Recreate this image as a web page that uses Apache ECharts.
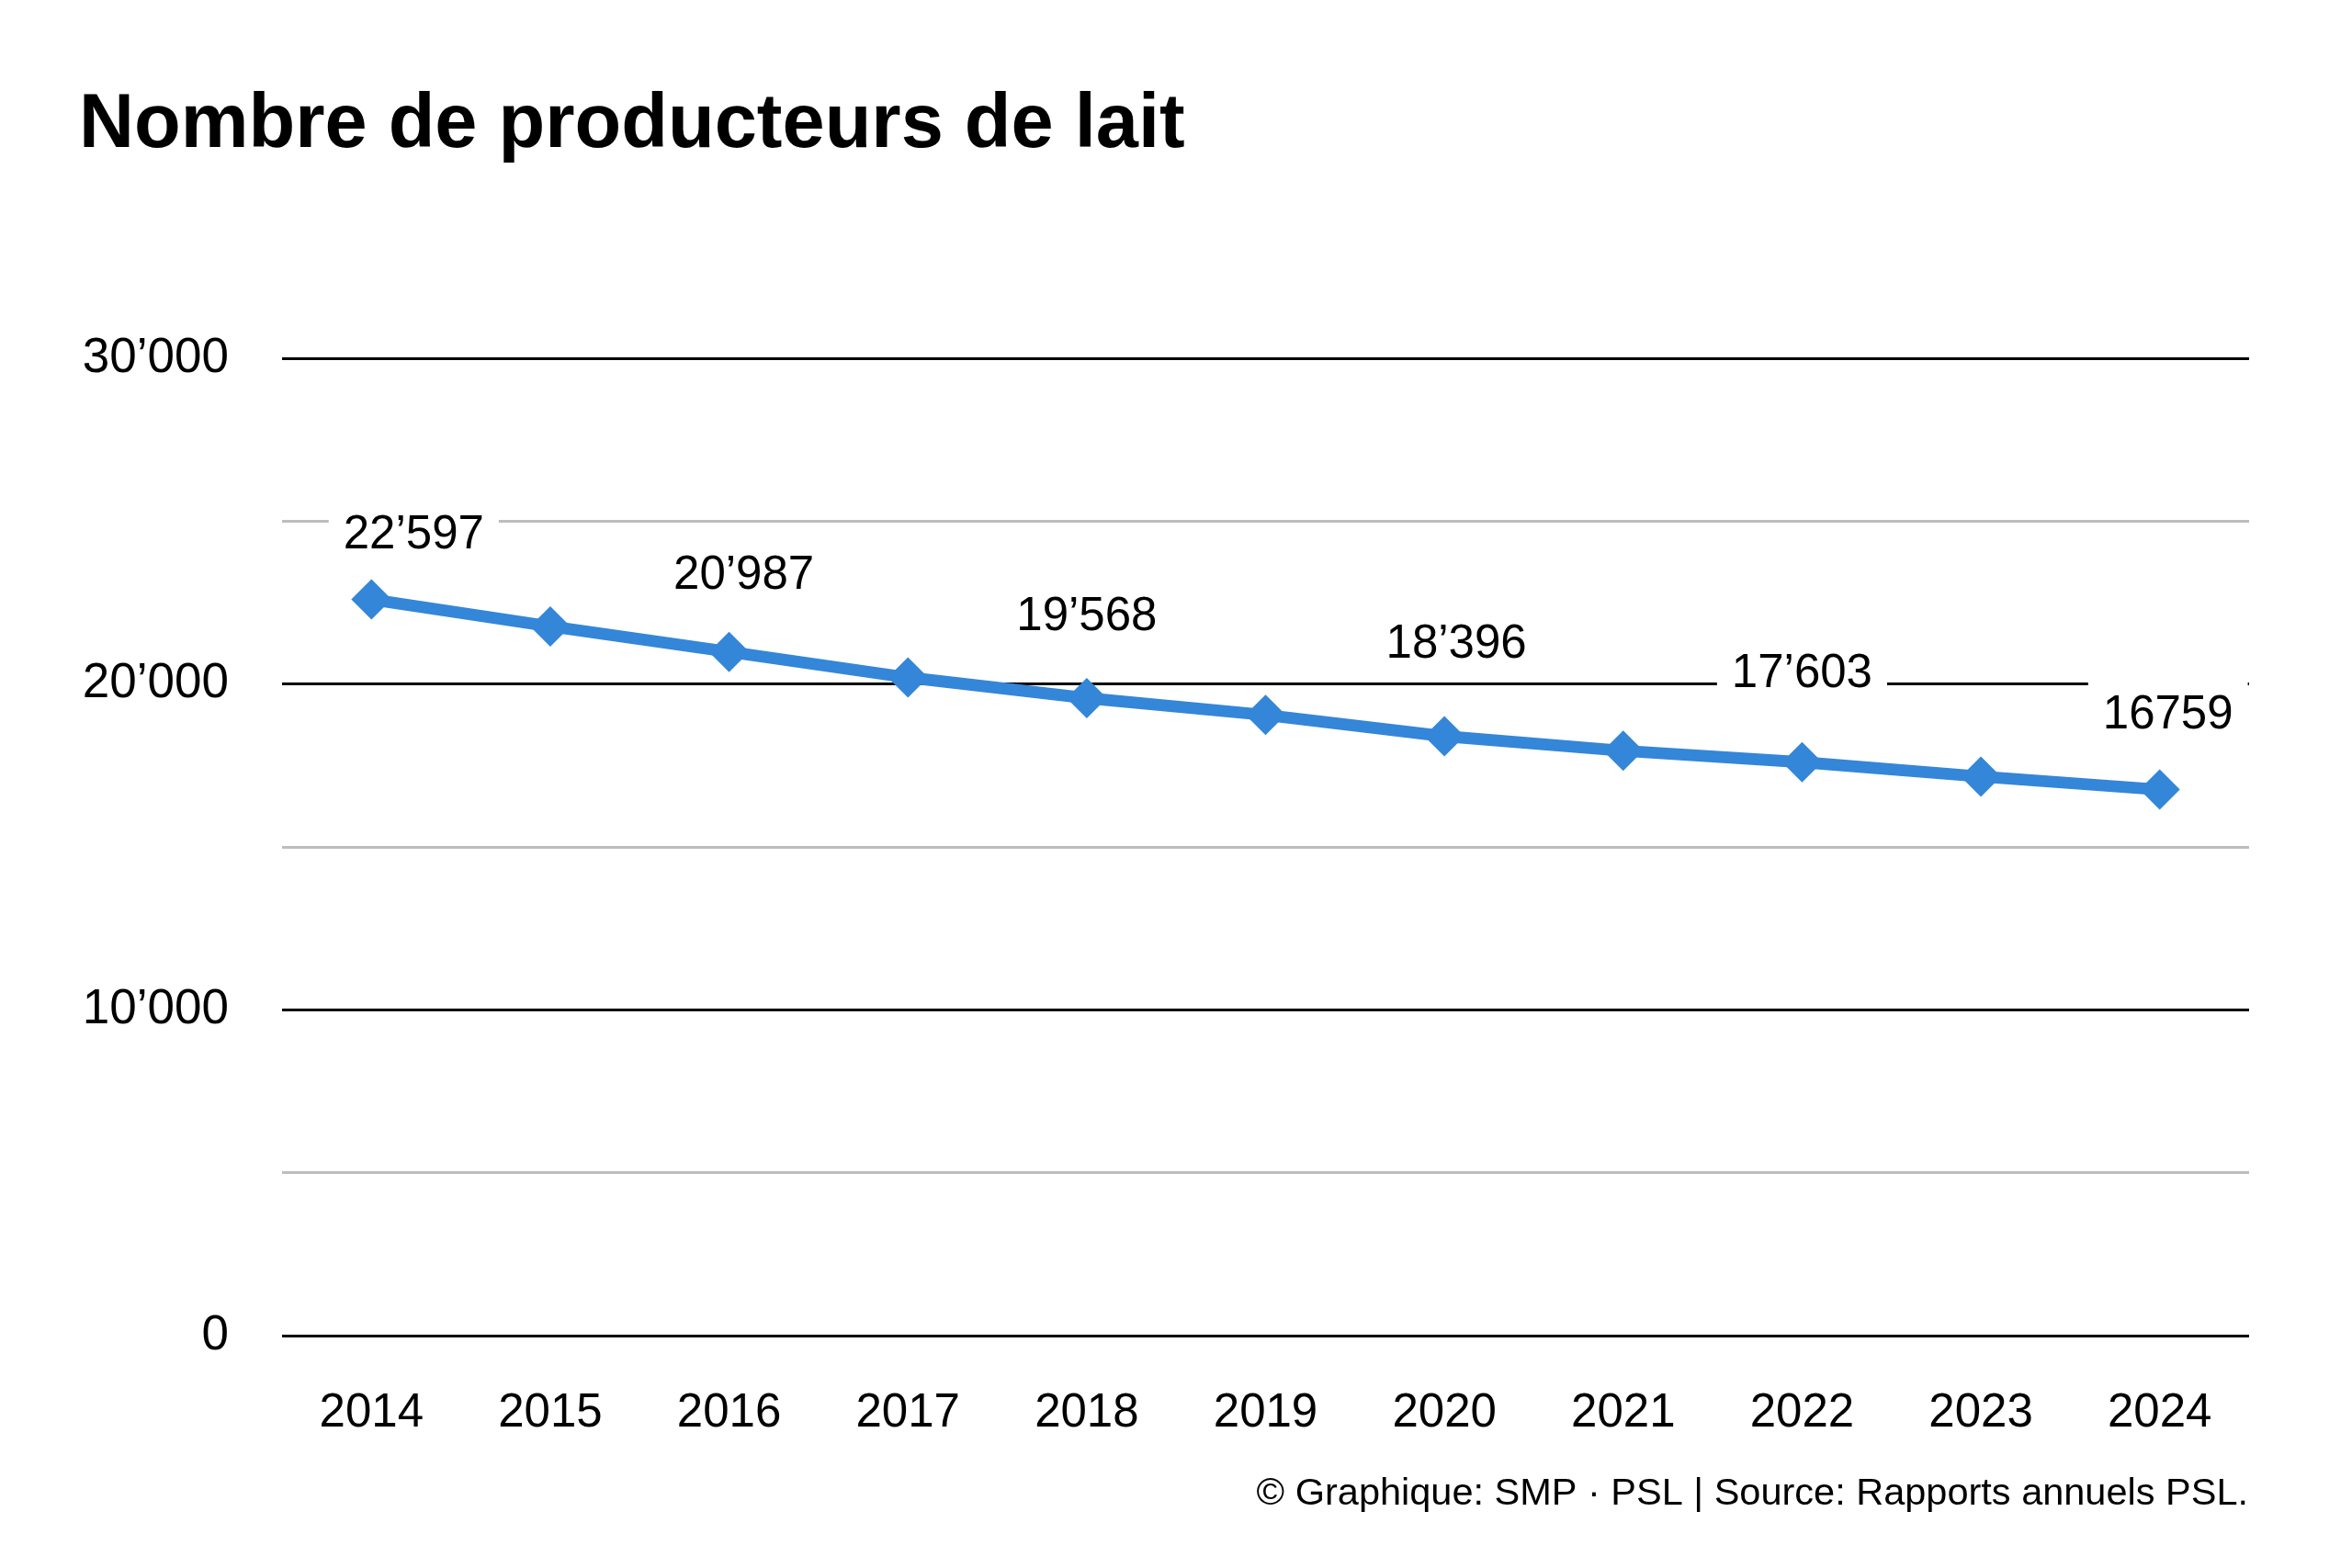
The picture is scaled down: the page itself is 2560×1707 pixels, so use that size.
<!DOCTYPE html>
<html>
<head>
<meta charset="utf-8">
<script src="https://cdn.jsdelivr.net/npm/echarts@6/dist/echarts.min.js"></script>
<style>
html,body{margin:0;padding:0;background:#fff;}
#chart{width:2560px;height:1707px;}
</style>
</head>
<body>
<div id="chart"></div>
<script>
// ---- data ----
const years = ['2014','2015','2016','2017','2018','2019','2020','2021','2022','2023','2024'];
const producers = [22597, 21770, 20987, 20200, 19568, 19050, 18396, 17950, 17603, 17160, 16759];
const pointLabels = ['22’597','','20’987','','19’568','','18’396','','17’603','','16759'];
const yTickValues = [0, 10000, 20000, 30000];
const yTickLabels = ['0','10’000','20’000','30’000'];
const titleText = 'Nombre de producteurs de lait';
const footerText = '© Graphique: SMP · PSL | Source: Rapports annuels PSL.';

// ---- layout / style (not data) ----
const labelOffsets = [[46,-70],null,[16,-83],null,[0,-88],null,[13,-100],null,[0,-96],null,[9,-81]];
const FONT = '"Liberation Sans", Arial, sans-serif';

const seriesData = producers.map((v, i) => {
  const item = { value: v };
  if (pointLabels[i]) {
    item.label = {
      show: true,
      position: 'inside',
      offset: labelOffsets[i],
      formatter: () => pointLabels[i],
      color: '#000',
      fontFamily: FONT,
      fontSize: 51,
      lineHeight: 44,
      backgroundColor: '#fff',
      padding: [34, 16, 0, 16]
    };
  } else {
    item.label = { show: false };
  }
  return item;
});

const chart = echarts.init(document.getElementById('chart'), null, { renderer: 'canvas' });
chart.setOption({
  backgroundColor: '#fff',
  animation: false,
  grid: { left: 307, right: 112, top: 390, bottom: 253, containLabel: false },
  xAxis: {
    type: 'category',
    data: years,
    boundaryGap: true,
    axisLine: { show: false },
    axisTick: { show: false },
    axisLabel: { color: '#000', fontFamily: FONT, fontSize: 51, margin: 59 },
    splitLine: { show: false }
  },
  yAxis: {
    type: 'value',
    min: 0,
    max: 30000,
    interval: 5000,
    axisLine: { show: false },
    axisTick: { show: false },
    axisLabel: {
      color: '#000', fontFamily: FONT, fontSize: 53, margin: 58, padding: [8, 0, 0, 0],
      formatter: (v) => { const k = yTickValues.indexOf(v); return k >= 0 ? yTickLabels[k] : ''; }
    },
    splitLine: { show: true, lineStyle: { color: ['#000000', '#bdbdbd'], width: 3 } }
  },
  series: [{
    type: 'line',
    data: seriesData,
    symbol: 'diamond',
    symbolSize: 44,
    lineStyle: { color: '#3486d8', width: 13 },
    itemStyle: { color: '#3486d8' },
    z: 3
  }],
  graphic: [
    {
      type: 'text', x: 86, y: 96,
      style: { text: titleText, font: 'bold 83px "Liberation Sans", Arial, sans-serif', fill: '#000', verticalAlign: 'top', align: 'left' }
    },
    {
      type: 'text', right: 113, top: 1606,
      style: { text: footerText, font: '41.5px "Liberation Sans", Arial, sans-serif', fill: '#000' }
    }
  ]
});
</script>
</body>
</html>
